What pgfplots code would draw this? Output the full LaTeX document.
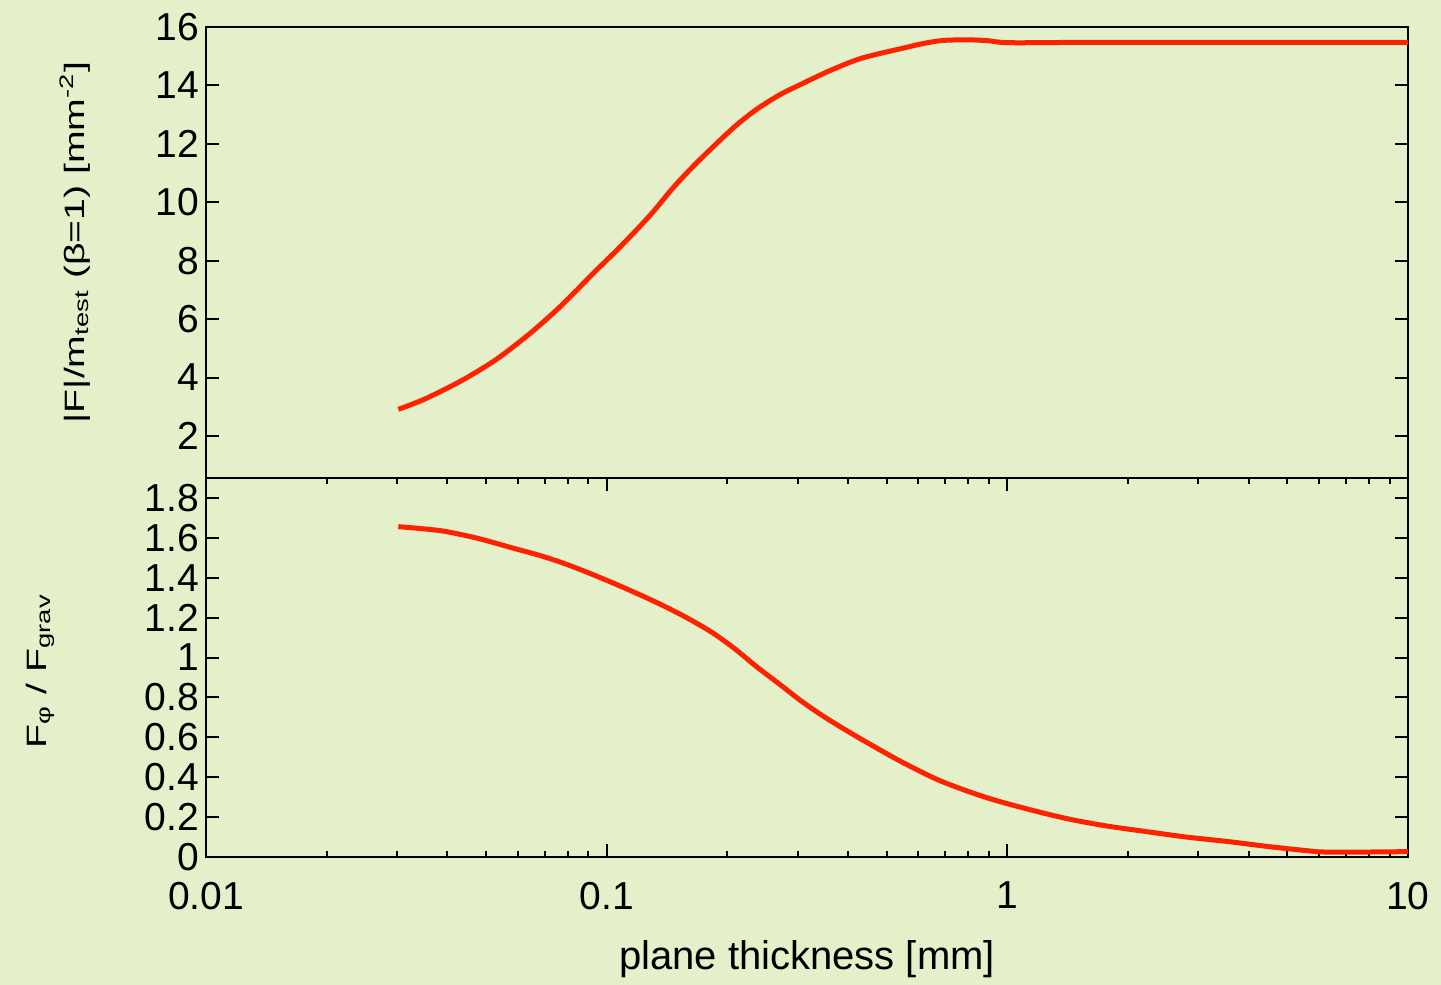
\documentclass[border=0pt]{standalone}
\usepackage{fontspec}
\setmainfont{Liberation Sans}
\usepackage{graphicx}
\usepackage{pgfplots}
\pgfplotsset{compat=1.18}
\definecolor{bg}{RGB}{227,240,202}
\definecolor{curve}{RGB}{255,34,0}
\pgfplotsset{
  myax/.style={
    scale only axis, width=601pt,
    xmin=0.01, xmax=10,
    axis line style={line width=1.4pt},
    every tick/.style={black, line width=1pt},
    major tick length=6.5pt, minor tick length=3pt,
    tick align=inside,
    /pgf/number format/assume math mode=true,
    tick label style={font=\fontsize{19.5}{20}\selectfont},
    ylabel style={font=\fontsize{14}{16}\selectfont},
  }
}
\pgfplotstableread{
x y
0.0302 2.91
0.035 3.25
0.0422 3.80
0.048 4.24
0.0542 4.71
0.0644 5.51
0.075 6.31
0.085 7.05
0.0944 7.68
0.1050 8.30
0.1166 8.94
0.1300 9.64
0.1466 10.50
0.1650 11.25
0.1845 11.90
0.2100 12.62
0.2367 13.18
0.2705 13.68
0.3036 14.02
0.3600 14.50
0.4325 14.93
0.547 15.27
0.62 15.44
0.692 15.54
0.80 15.56
0.895 15.53
0.97 15.47
1.10 15.46
1.5 15.47
10 15.47
}\topdata
\pgfplotstableread{
x y
0.0302 1.656
0.035 1.645
0.0399 1.631
0.048 1.596
0.0585 1.548
0.068 1.512
0.078 1.473
0.09 1.425
0.1039 1.373
0.12 1.318
0.1384 1.260
0.16 1.195
0.1845 1.122
0.21 1.040
0.2367 0.954
0.2706 0.865
0.3036 0.787
0.34 0.718
0.385 0.650
0.45 0.570
0.547 0.475
0.68 0.382
0.874 0.302
1.1 0.245
1.397 0.194
1.75 0.157
2.23 0.127
2.8 0.100
3.57 0.077
4.5 0.052
5.71 0.030
6.2 0.025
8 0.025
10 0.027
}\botdata
\begin{document}
\begin{tikzpicture}
\fill[bg] (-103pt,-64pt) rectangle (617.5pt,428.5pt);
\begin{semilogxaxis}[myax,
  at={(0,0)}, anchor=south west,
  height=189.5pt,
  ymin=0, ymax=1.9,
  ytick={0,0.2,0.4,0.6,0.8,1,1.2,1.4,1.6,1.8},
  yticklabels={0,0.2,0.4,0.6,0.8,1,1.2,1.4,1.6,1.8},
  xtick={0.01,0.1,1,10},
  xticklabels={0.01,0.1,1,10},
  xticklabel style={yshift=-9pt},
  xlabel={plane thickness [mm]},
  xlabel style={font=\fontsize{20}{22}\selectfont, at={(axis description cs:0.5,-0.27)}, anchor=center},
  ylabel={\scalebox{1.4}[1]{F\textsubscript{φ} / F\textsubscript{grav}}},
  ylabel style={at={(axis description cs:-0.138,0.491)}, anchor=center},
]
\addplot[curve, line width=2.5pt, smooth, tension=0.5] table[x=x,y=y] {\botdata};
\end{semilogxaxis}
\begin{semilogxaxis}[myax,
  at={(0,189.5pt)}, anchor=south west,
  height=225.5pt,
  ymin=0.56, ymax=16,
  ytick={2,4,6,8,10,12,14,16},
  xtick=\empty,
  ylabel={\scalebox{1.4}[1]{|F|/m\textsubscript{test} (β=1) [mm\textsuperscript{-2}]}},
  ylabel style={at={(axis description cs:-0.109,0.522)}, anchor=center},
]
\addplot[curve, line width=2.5pt, smooth, tension=0.5] table[x=x,y=y] {\topdata};
\end{semilogxaxis}
\pgfresetboundingbox
\path (-103pt,-64pt) rectangle (617.5pt,428.5pt);
\end{tikzpicture}
\end{document}
